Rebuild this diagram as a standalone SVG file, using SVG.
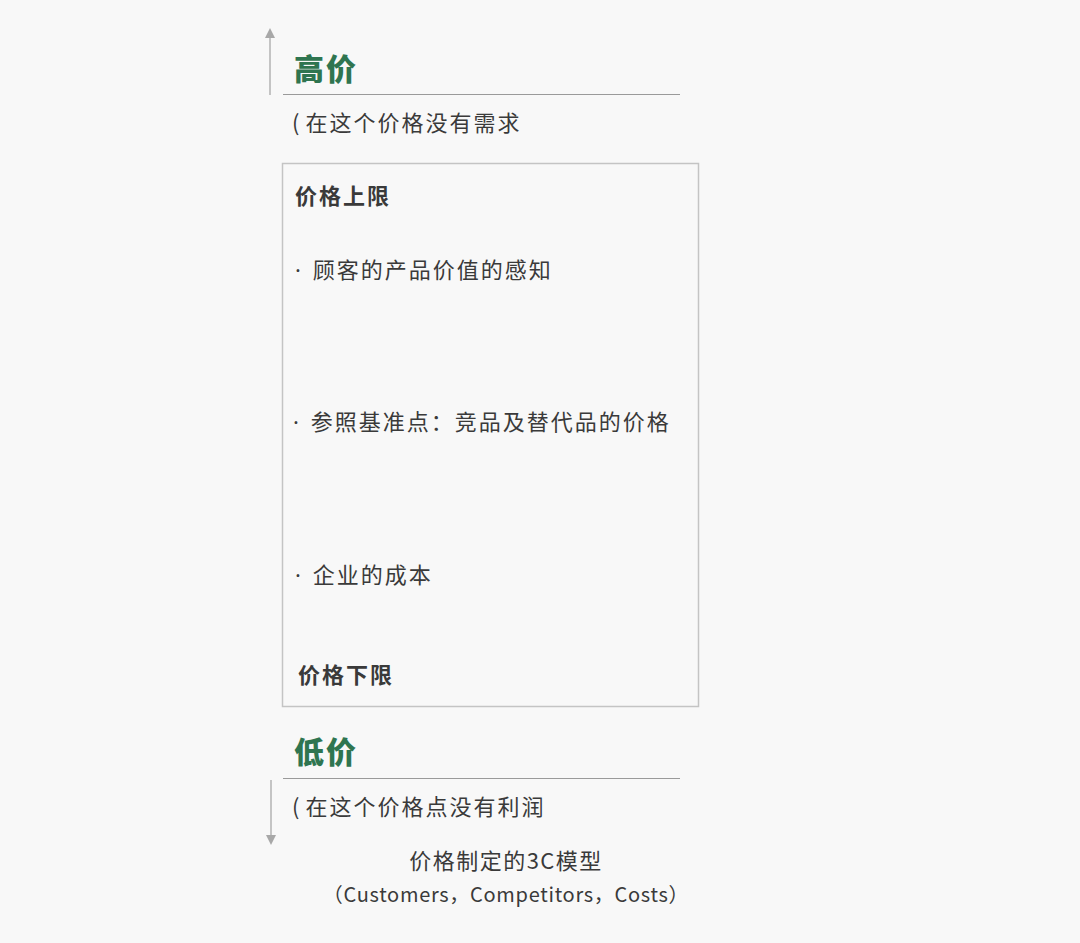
<svg xmlns="http://www.w3.org/2000/svg" width="1080" height="943" viewBox="0 0 1080 943">
<style>
text{font-family:"Noto Sans CJK SC","Noto Sans",sans-serif;fill:#3a3a3a}
.g{fill:#2f7550;font-weight:900;font-size:30px;letter-spacing:2px}
.b{font-weight:bold;font-size:22px;letter-spacing:2px}
.n{font-size:22px;letter-spacing:2px}
.d{font-family:"Noto Sans",sans-serif;letter-spacing:3px}
.ln{stroke:#a8a8a8;stroke-width:1.3;fill:none}
.rl{stroke:#9a9a9a;stroke-width:1.2;fill:none}
</style>
<defs>
<marker id="ah" markerWidth="10" markerHeight="10" refX="5" refY="5" orient="auto" markerUnits="userSpaceOnUse">
<path d="M0,0 L10,5 L0,10 z" fill="#a8a8a8"/>
</marker>
</defs>
<rect width="1080" height="943" fill="#f8f8f8"/>
<g id="connectors">
<line class="ln" x1="270" y1="95" x2="270" y2="33" marker-end="url(#ah)"/>
<line class="ln" x1="271" y1="780" x2="271" y2="840" marker-end="url(#ah)"/>
<line class="rl" x1="283" y1="94.5" x2="680" y2="94.5"/>
<line class="rl" x1="283" y1="778.5" x2="680" y2="778.5"/>
</g>
<g id="high">
<text class="g" x="294" y="80">高价</text>
<text class="n" x="292" y="131">(<tspan dx="4">在这个价格没有需求</tspan></text>
</g>
<g id="range">
<rect x="282.5" y="163.5" width="416" height="543" fill="none" stroke="#c4c4c4" stroke-width="1.5"/>
<text class="b" x="295" y="204">价格上限</text>
<text class="n" x="295" y="278"><tspan class="d">· </tspan>顾客的产品价值的感知</text>
<text class="n" x="293" y="430"><tspan class="d">· </tspan>参照基准点：竞品及替代品的价格</text>
<text class="n" x="295" y="583"><tspan class="d">· </tspan>企业的成本</text>
<text class="b" x="298" y="683">价格下限</text>
</g>
<g id="low">
<text class="g" x="294" y="763">低价</text>
<text class="n" x="292" y="815">(<tspan dx="4">在这个价格点没有利润</tspan></text>
</g>
<g id="caption">
<text x="506" y="869" text-anchor="middle" font-size="22" letter-spacing="1.5">价格制定的3C模型</text>
<text x="506" y="902" text-anchor="middle" font-size="20" letter-spacing="0.7">（Customers，Competitors，Costs）</text>
</g>
</svg>
